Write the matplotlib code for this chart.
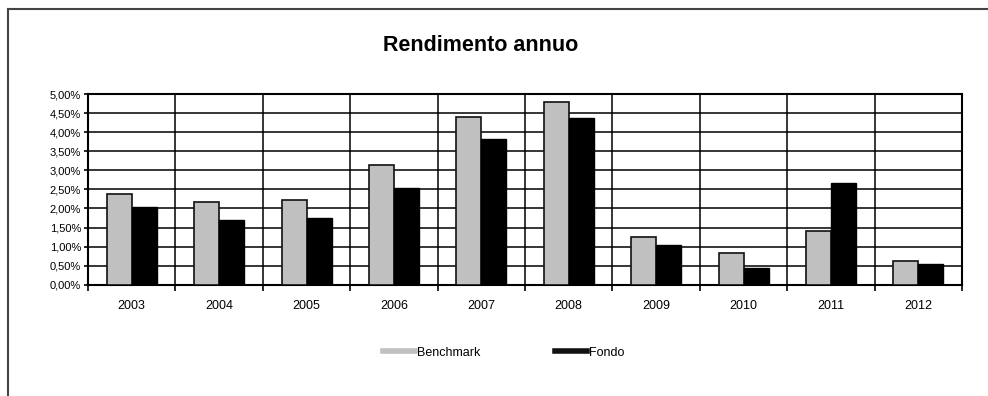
import matplotlib.pyplot as plt
import numpy as np
from matplotlib.lines import Line2D
from matplotlib.ticker import FuncFormatter

# dati
anni = ["2003", "2004", "2005", "2006", "2007", "2008", "2009", "2010", "2011", "2012"]
benchmark = [2.39, 2.17, 2.22, 3.15, 4.39, 4.80, 1.24, 0.84, 1.40, 0.62]
fondo = [2.05, 1.69, 1.74, 2.54, 3.83, 4.36, 1.03, 0.45, 2.67, 0.54]

plt.rcParams['font.family'] = ['Liberation Sans', 'DejaVu Sans']

fig = plt.figure(figsize=(9.88, 3.96), dpi=100)
ax = fig.add_axes([0.0891, 0.281, 0.8846, 0.4816])

x = np.arange(len(anni))
w = 0.286
ax.bar(x - w / 2, benchmark, w, color='#C0C0C0', edgecolor='#111111', linewidth=1.2, zorder=3)
ax.bar(x + w / 2, fondo, w, color='#000000', edgecolor='#000000', linewidth=1.0, zorder=3)

ax.set_xlim(-0.5, len(anni) - 0.5)
ax.set_ylim(0, 5)
ax.set_yticks(np.arange(0, 5.01, 0.5))
ax.yaxis.set_major_formatter(FuncFormatter(lambda v, p: ("%.2f%%" % v).replace(".", ",")))

# griglia orizzontale e verticale
for yv in np.arange(0.5, 5.0, 0.5):
    ax.axhline(yv, color='#000000', linewidth=1.1, zorder=1)
for xv in np.arange(0.5, len(anni) - 0.5, 1):
    ax.axvline(xv, color='#000000', linewidth=1.1, zorder=1)

ax.set_xticks(x)
ax.set_xticklabels(anni)
ax.set_xticks(np.arange(-0.5, len(anni), 1), minor=True)
ax.tick_params(axis='x', which='major', length=0, pad=11, labelsize=9)
ax.tick_params(axis='x', which='minor', length=4, width=1.2, direction='out')
ax.tick_params(axis='y', length=3, width=1.2, pad=2, labelsize=8)
for s in ax.spines.values():
    s.set_linewidth(1.5)
    s.set_color('#000000')

fig.text(0.486, 0.885, "Rendimento annuo", ha='center', va='center', fontsize=15.5, fontweight='bold')

handles = [Line2D([], [], color='#C0C0C0', linewidth=4),
           Line2D([], [], color='#111111', linewidth=4)]
fig.legend(handles, ["Benchmark", "Fondo"], loc='center', bbox_to_anchor=(0.5096, 0.109),
           ncol=2, frameon=False, fontsize=9, handlelength=2.56, handletextpad=0.16,
           columnspacing=6.0)

# cornice esterna
fig.add_artist(Line2D([8 / 988, 8 / 988], [0, 1 - 9 / 396], color='#444444', linewidth=1.5,
                      transform=fig.transFigure))
fig.add_artist(Line2D([8 / 988, 1], [1 - 9 / 396, 1 - 9 / 396], color='#444444', linewidth=1.5,
                      transform=fig.transFigure))

fig.savefig("out.png", dpi=100)
